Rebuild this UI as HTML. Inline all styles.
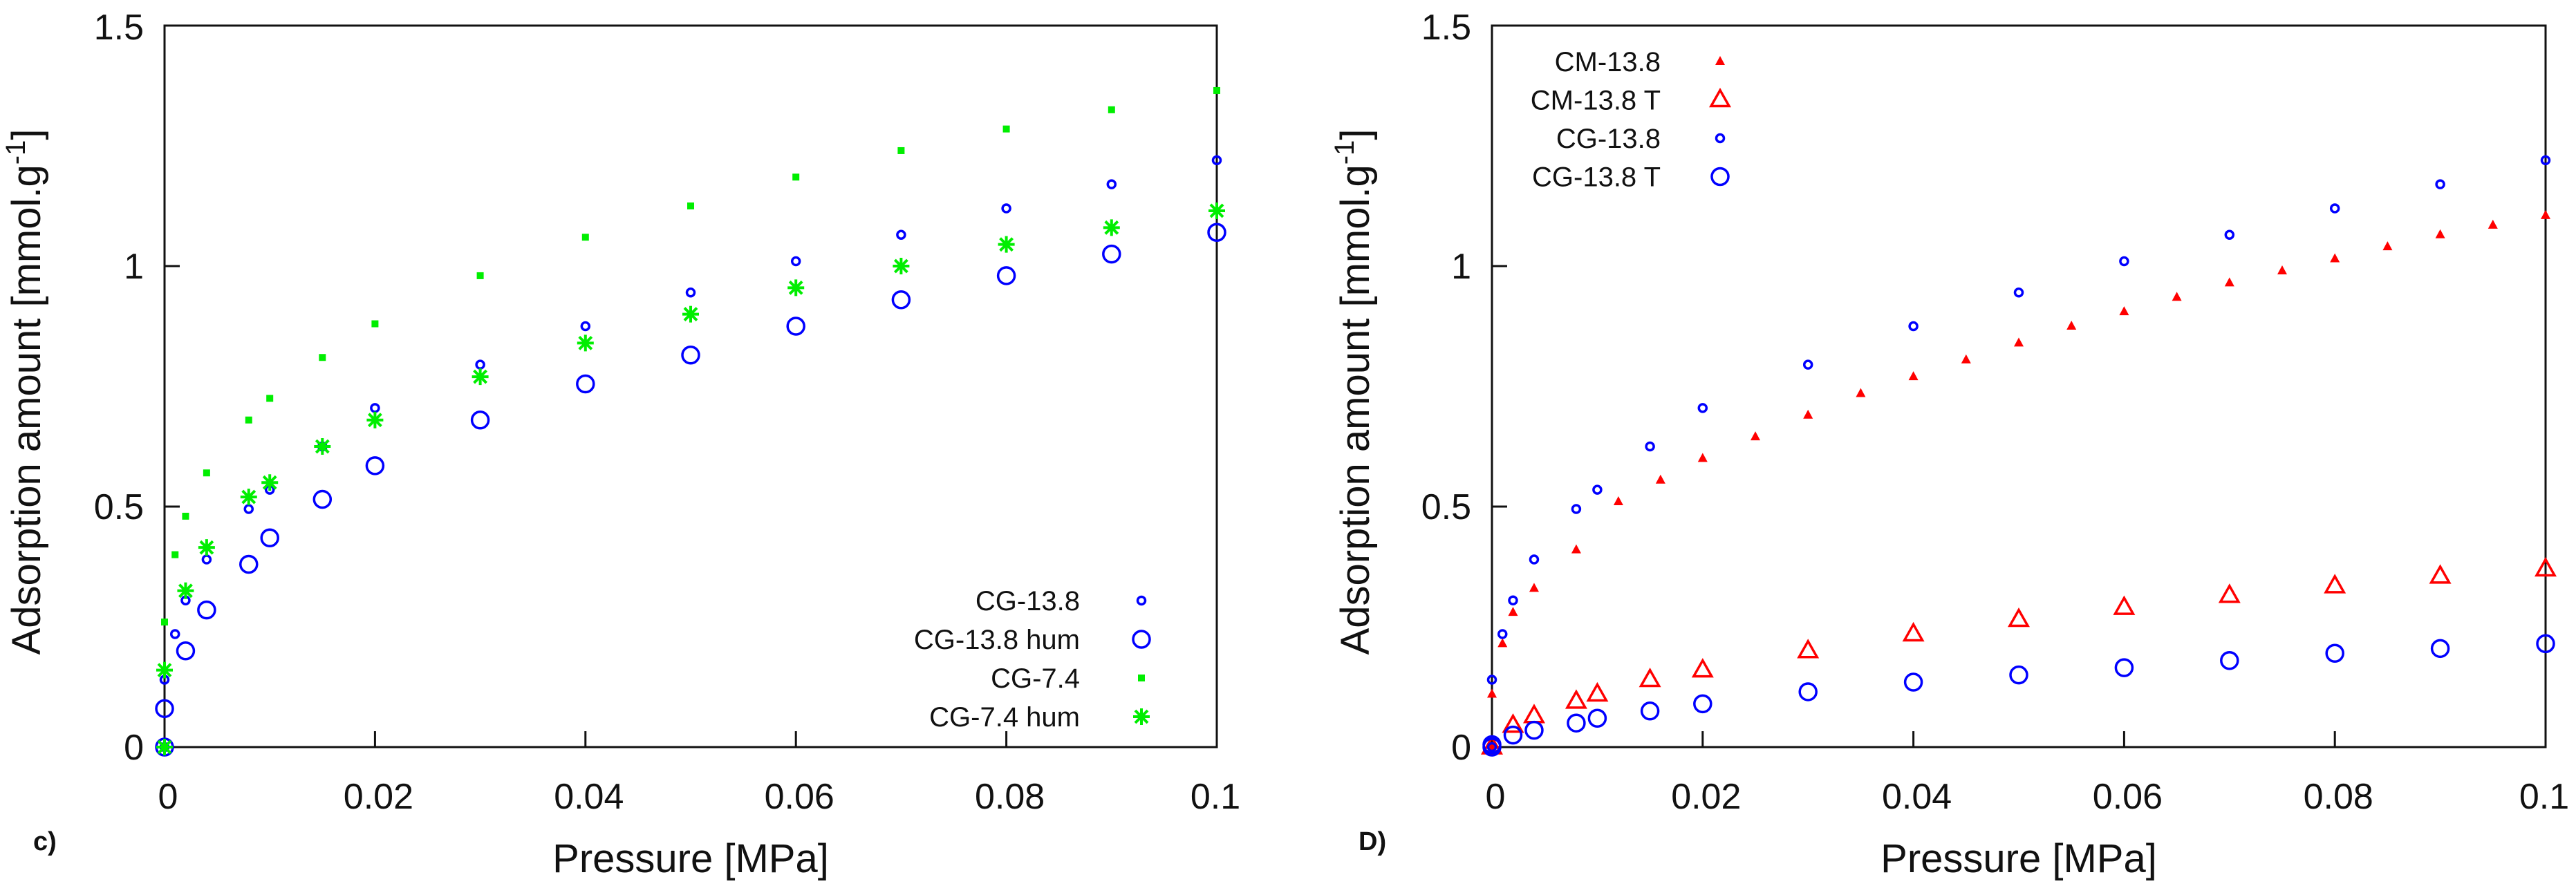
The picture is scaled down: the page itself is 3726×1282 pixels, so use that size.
<!DOCTYPE html>
<html><head><meta charset="utf-8"><style>
html,body{margin:0;padding:0;background:#fff;}
svg{display:block;font-family:"Liberation Sans",sans-serif;}
</style></head><body>
<svg id="chart" width="3726" height="1282" viewBox="0 0 3726 1282" xmlns="http://www.w3.org/2000/svg"></svg>
<script>
// ---- data ----
const cg138X = [0,0,0.001,0.002,0.004,0.008,0.01,0.015,0.02,0.03,0.04,0.05,0.06,0.07,0.08,0.09,0.1];
const cg138Y = [0,0.14,0.235,0.305,0.39,0.495,0.535,0.625,0.705,0.795,0.875,0.945,1.01,1.065,1.12,1.17,1.22];
const cg138humX = [0,0,0.002,0.004,0.008,0.01,0.015,0.02,0.03,0.04,0.05,0.06,0.07,0.08,0.09,0.1];
const cg138humY = [0,0.08,0.2,0.285,0.38,0.435,0.515,0.585,0.68,0.755,0.815,0.875,0.93,0.98,1.025,1.07];
const cg74X = [0,0,0.001,0.002,0.004,0.008,0.01,0.015,0.02,0.03,0.04,0.05,0.06,0.07,0.08,0.09,0.1];
const cg74Y = [0,0.26,0.4,0.48,0.57,0.68,0.725,0.81,0.88,0.98,1.06,1.125,1.185,1.24,1.285,1.325,1.365];
const cg74humX = [0,0,0.002,0.004,0.008,0.01,0.015,0.02,0.03,0.04,0.05,0.06,0.07,0.08,0.09,0.1];
const cg74humY = [0,0.16,0.325,0.415,0.52,0.55,0.625,0.68,0.77,0.84,0.9,0.955,1.0,1.045,1.08,1.115];
const cm138X = [0,0,0.001,0.002,0.004,0.008,0.012,0.016,0.02,0.025,0.03,0.035,0.04,0.045,0.05,0.055,0.06,0.065,0.07,0.075,0.08,0.085,0.09,0.095,0.1];
const cm138Y = [0,0.11,0.215,0.28,0.33,0.41,0.51,0.555,0.6,0.645,0.69,0.735,0.77,0.805,0.84,0.875,0.905,0.935,0.965,0.99,1.015,1.04,1.065,1.085,1.105];
const cm138TX = [0,0.002,0.004,0.008,0.01,0.015,0.02,0.03,0.04,0.05,0.06,0.07,0.08,0.09,0.1];
const cm138TY = [0,0.045,0.065,0.095,0.11,0.14,0.16,0.2,0.235,0.265,0.29,0.315,0.335,0.355,0.37];
const cg138TX = [0,0,0.002,0.004,0.008,0.01,0.015,0.02,0.03,0.04,0.05,0.06,0.07,0.08,0.09,0.1];
const cg138TY = [0,0.005,0.025,0.035,0.05,0.06,0.075,0.09,0.115,0.135,0.15,0.165,0.18,0.195,0.205,0.215];
const xTicks = [0,0.02,0.04,0.06,0.08,0.1];
const xTickLabels = ["0","0.02","0.04","0.06","0.08","0.1"];
const yTicks = [0,0.5,1,1.5];
const yTickLabels = ["0","0.5","1","1.5"];

const NS="http://www.w3.org/2000/svg";
const svg=document.getElementById('chart');
function mk(tag,attrs,parent,text){const e=document.createElementNS(NS,tag);for(const k in attrs)e.setAttribute(k,attrs[k]);if(text!==undefined)e.textContent=text;(parent||svg).appendChild(e);return e;}

const BLUE="#0000ff",GREEN="#00ee00",RED="#ff0000";
function marker(g,type,cx,cy){
  let e;
  if(type==='sc') e=mk('circle',{cx,cy,r:5.5,fill:'none',stroke:BLUE,'stroke-width':3.5},g);
  else if(type==='bc') e=mk('circle',{cx,cy,r:12,fill:'none',stroke:BLUE,'stroke-width':3.5},g);
  else if(type==='sq') e=mk('rect',{x:cx-5,y:cy-5,width:10,height:10,fill:GREEN},g);
  else if(type==='st'){e=mk('path',{d:`M${cx-12},${cy}H${cx+12}M${cx},${cy-12}V${cy+12}M${cx-9},${cy-9}L${cx+9},${cy+9}M${cx-9},${cy+9}L${cx+9},${cy-9}`,stroke:GREEN,'stroke-width':4,fill:'none'},g);}
  else if(type==='ft') e=mk('path',{d:`M${cx},${cy-8}L${cx+7},${cy+5}L${cx-7},${cy+5}Z`,fill:RED},g);
  else if(type==='ot') e=mk('path',{d:`M${cx},${cy-14}L${cx+13},${cy+9}L${cx-13},${cy+9}Z`,fill:'none',stroke:RED,'stroke-width':3.5},g);
  return e;
}

function panel(opt){
  const X0=opt.x0,X1=opt.x1,Y0=1081,Y1=37;
  const xs=v=>X0+(v/0.1)*(X1-X0);
  const ys=v=>Y0-(v/1.5)*(Y0-Y1);
  const g=mk('g',{});
  
  
  const fr=mk('rect',{x:X0,y:Y1,width:X1-X0,height:Y0-Y1,fill:'none',stroke:'#111','stroke-width':3},g);
  
  
  xTicks.forEach((t,i)=>{
    const x=xs(t);
    if(i>0&&i<xTicks.length-1){const l=mk('line',{x1:x,x2:x,y1:Y0,y2:Y0-23,stroke:'#111','stroke-width':3},g);
      
      }
    const tx=mk('text',{x:x+(i===xTicks.length-1?-2:5),y:1170,'font-size':52,'text-anchor':'middle',fill:'#111'},g,xTickLabels[i]);
    
    
  });
  yTicks.forEach((t,i)=>{
    const y=ys(t);
    if(i>0&&i<yTicks.length-1){const l=mk('line',{x1:X0,x2:X0+22,y1:y,y2:y,stroke:'#111','stroke-width':3},g);
      
      }
    const tx=mk('text',{x:X0-30,y:y+(i===yTicks.length-1?20:18),'font-size':52,'text-anchor':'end',fill:'#111'},g,yTickLabels[i]);
    
    
  });
  const xt=mk('text',{x:(X0+X1)/2,y:1262,'font-size':58,'text-anchor':'middle',fill:'#111'},g,'Pressure [MPa]');
  
  
  const yt=mk('text',{x:0,y:0,'font-size':58,'text-anchor':'middle',fill:'#111',transform:`translate(${opt.ytx},567) rotate(-90)`},g);
  
  
  mk('tspan',{},yt,'Adsorption amount [mmol.g');
  mk('tspan',{'font-size':40,dy:-22},yt,'-1');
  mk('tspan',{dy:22},yt,']');
  const pl=mk('text',{x:opt.lblx,y:1230,'font-size':38,'font-weight':'bold',fill:'#111'},g,opt.label);
  
  
  opt.series.forEach(s=>{
    const sg=mk('g',{},g);
    
    
    s.xs.forEach((v,i)=>{
      const m=marker(sg,s.type,xs(v),ys(s.ys[i]));
      
      
    });
  });
  opt.series.forEach((s,i)=>{
    const lg=mk('g',{},g);
    
    
    const cy=opt.legY+i*opt.legDy;
    mk('text',{x:opt.legTx,y:cy+14,'font-size':40,'text-anchor':'end',fill:'#111'},lg,s.label);
    marker(lg,s.type,opt.legSx,cy);
  });
}

panel({name:'panel-c',x0:238,x1:1760,ytx:58,lblx:48,label:'c)',legTx:1562,legSx:1651,legY:869,legDy:56,
  series:[
    {key:'cg-13-8',label:'CG-13.8',type:'sc',xs:cg138X,ys:cg138Y},
    {key:'cg-13-8-hum',label:'CG-13.8 hum',type:'bc',xs:cg138humX,ys:cg138humY},
    {key:'cg-7-4',label:'CG-7.4',type:'sq',xs:cg74X,ys:cg74Y},
    {key:'cg-7-4-hum',label:'CG-7.4 hum',type:'st',xs:cg74humX,ys:cg74humY}
  ]});
panel({name:'panel-d',x0:2158,x1:3682,ytx:1980,lblx:1965,label:'D)',legTx:2402,legSx:2488,legY:89,legDy:55.5,
  series:[
    {key:'cm-13-8',label:'CM-13.8',type:'ft',xs:cm138X,ys:cm138Y},
    {key:'cm-13-8-t',label:'CM-13.8 T',type:'ot',xs:cm138TX,ys:cm138TY},
    {key:'cg-13-8',label:'CG-13.8',type:'sc',xs:cg138X,ys:cg138Y},
    {key:'cg-13-8-t',label:'CG-13.8 T',type:'bc',xs:cg138TX,ys:cg138TY}
  ]});
</script>
</body></html>
